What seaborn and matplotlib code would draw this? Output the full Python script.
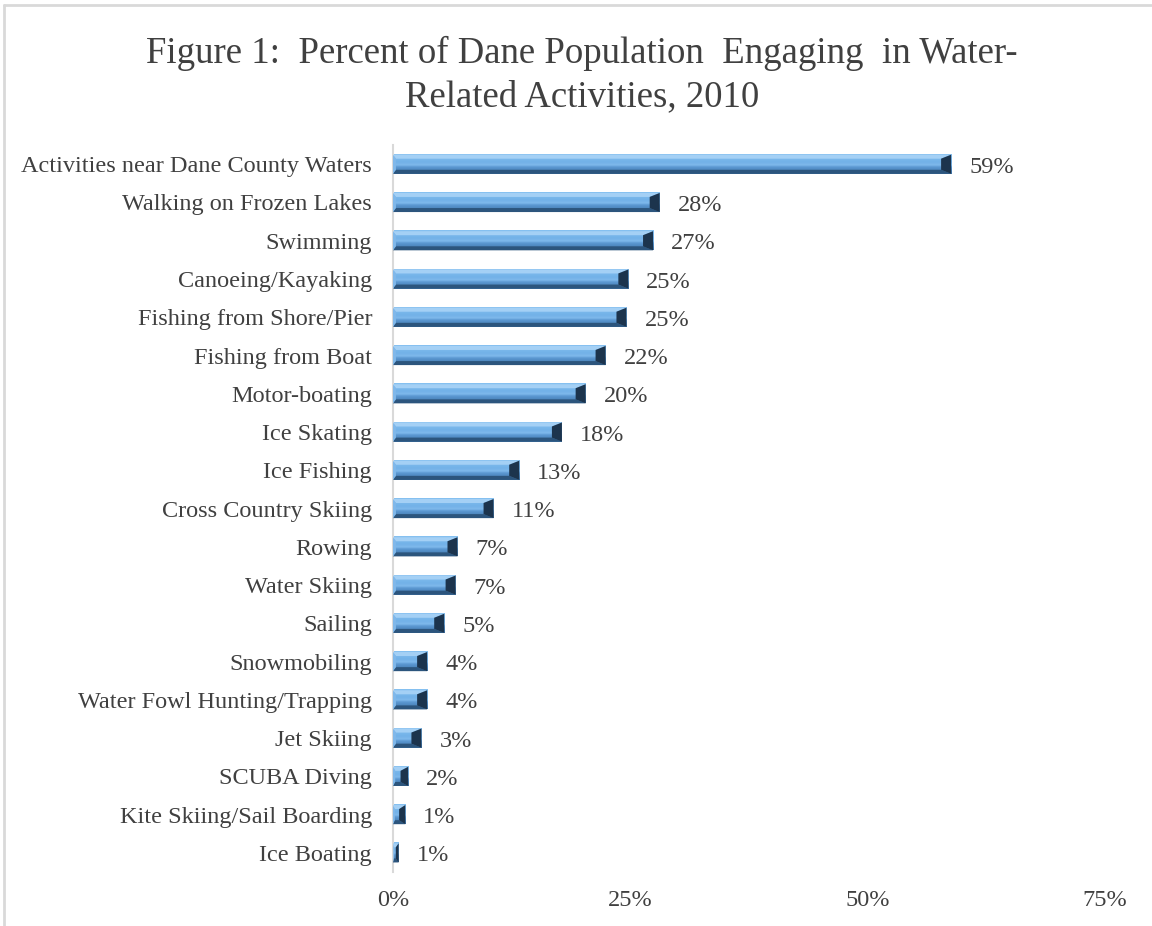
import numpy as np
import pandas as pd
import seaborn as sns
import matplotlib.pyplot as plt
from matplotlib.patches import Polygon
from matplotlib.lines import Line2D
from matplotlib.colors import LinearSegmentedColormap

# Survey results: share of the population taking part in each activity
activities = [
    "Activities near Dane County Waters",
    "Walking on Frozen Lakes",
    "Swimming",
    "Canoeing/Kayaking",
    "Fishing from Shore/Pier",
    "Fishing from Boat",
    "Motor-boating",
    "Ice Skating",
    "Ice Fishing",
    "Cross Country Skiing",
    "Rowing",
    "Water Skiing",
    "Sailing",
    "Snowmobiling",
    "Water Fowl Hunting/Trapping",
    "Jet Skiing",
    "SCUBA Diving",
    "Kite Skiing/Sail Boarding",
    "Ice Boating",
]
percent = [58.8, 28.1, 27.4, 24.8, 24.6, 22.4, 20.3, 17.8, 13.3, 10.6,
           6.8, 6.6, 5.4, 3.6, 3.6, 3.0, 1.6, 1.3, 0.6]
x_ticks = [0, 25, 50, 75]
title = "Figure 1:  Percent of Dane Population  Engaging  in Water-\nRelated Activities, 2010"

sns.set_theme(style="white")
plt.rcParams["font.family"] = ["Liberation Serif", "DejaVu Serif"]

TEXT = "#404040"
GRID = "#d9d9d9"
LABEL_SIZE = 17.5

fig = plt.figure(figsize=(11.52, 9.26), dpi=100)
ax = fig.add_axes([0.3411, 0.0583, 0.618, 0.785])

df = pd.DataFrame({"Activity": activities, "Percent": percent})
sns.barplot(data=df, x="Percent", y="Activity", color="#5b9bd5",
            saturation=1, width=0.5, ax=ax)

ax.set_xlim(0, 75)
ax.set_ylim(len(activities) - 0.5, -0.5)

# pixel size of one data unit, used to size the bevel facets
p0 = ax.transData.transform((0, 0))
p1 = ax.transData.transform((1, 1))
px_x = abs(p1[0] - p0[0])
px_y = abs(p1[1] - p0[1])

face_cmap = LinearSegmentedColormap.from_list(
    "face", [(0.0, "#86c1f1"), (0.4, "#72b1e8"), (0.55, "#7fb9ec"),
             (0.65, "#5b98d2"), (1.0, "#3f73a6")])
grad = np.linspace(0, 1, 64).reshape(-1, 1)

for patch in ax.patches:
    x0, x1 = patch.get_x(), patch.get_x() + patch.get_width()
    ya, yb = patch.get_y(), patch.get_y() + patch.get_height()
    y_top, y_bot = min(ya, yb), max(ya, yb)
    w = x1 - x0
    bx = min(10.0 / px_x, w / 2)
    by = min(4.0 / px_y, (y_bot - y_top) / 2)
    patch.set_visible(False)

    # central face with a vertical gradient
    ax.imshow(grad, cmap=face_cmap, aspect="auto", origin="upper",
              extent=(x0, x1, y_bot, y_top), zorder=2, interpolation="bilinear")

    # bevel facets around the face
    top = [(x0, y_top), (x1, y_top), (x1 - bx, y_top + by), (x0 + bx * 0.3, y_top + by)]
    bot = [(x0, y_bot), (x1, y_bot), (x1 - bx, y_bot - by), (x0 + bx * 0.3, y_bot - by)]
    left = [(x0, y_top), (x0 + bx * 0.3, y_top + by), (x0 + bx * 0.3, y_bot - by), (x0, y_bot)]
    right = [(x1, y_top), (x1 - bx, y_top + by), (x1 - bx, y_bot - by), (x1, y_bot)]
    ax.add_patch(Polygon(top, closed=True, facecolor="#a4d0f5", edgecolor="none", zorder=3))
    ax.add_patch(Polygon(bot, closed=True, facecolor="#2c557d", edgecolor="none", zorder=3))
    ax.add_patch(Polygon(left, closed=True, facecolor="#80b8ea", edgecolor="none", zorder=3))
    ax.add_patch(Polygon(right, closed=True, facecolor="#1c344d", edgecolor="none", zorder=4))

    ax.text(x1 + 18.0 / px_x, (y_top + y_bot) / 2 + 3.0 / px_y, f"{x1:.0f}%",
            ha="left", va="center", fontsize=LABEL_SIZE, color=TEXT)

ax.set_xlim(0, 75)
ax.set_ylim(len(activities) - 0.5, -0.5)
ax.set_xticks(x_ticks)
ax.set_xticklabels([f"{t}%" for t in x_ticks])
ax.set_xlabel("")
ax.set_ylabel("")
ax.tick_params(axis="y", length=0, pad=15, labelsize=LABEL_SIZE, labelcolor=TEXT)
ax.tick_params(axis="x", length=0, pad=13, labelsize=LABEL_SIZE, labelcolor=TEXT)

for side in ("top", "right", "bottom"):
    ax.spines[side].set_visible(False)
ax.spines["left"].set_color(GRID)
ax.spines["left"].set_linewidth(1.5)
ax.grid(False)

fig.text(0.505, 0.919, title, ha="center", va="center", fontsize=26.5,
         color=TEXT, linespacing=1.32)

# chart-area border along the top and left edges
fig.add_artist(Line2D([4 / 1152, 1], [1 - 5 / 926, 1 - 5 / 926],
                      transform=fig.transFigure, color=GRID, linewidth=2))
fig.add_artist(Line2D([4 / 1152, 4 / 1152], [0, 1 - 5 / 926],
                      transform=fig.transFigure, color=GRID, linewidth=2))

fig.savefig("out.png", dpi=100, facecolor="white")
